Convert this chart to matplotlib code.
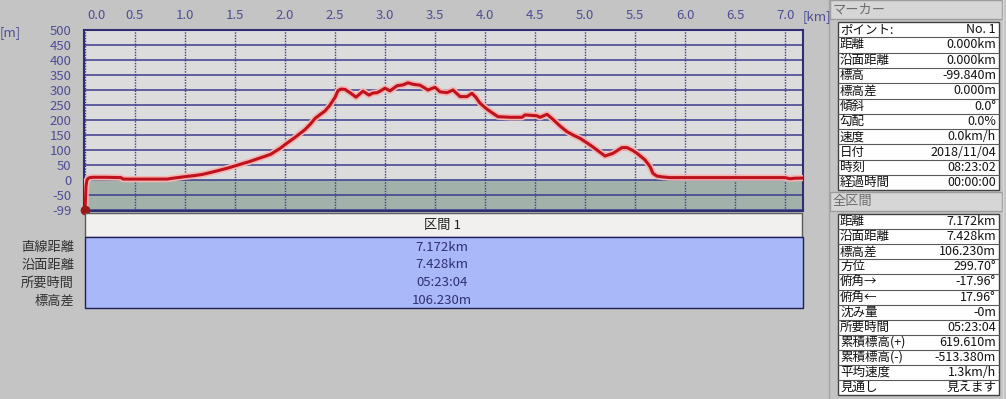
import matplotlib.pyplot as plt
from matplotlib.patches import Rectangle
from matplotlib.transforms import ScaledTranslation

plt.rcParams['font.family'] = ['Noto Sans CJK JP', 'DejaVu Sans']

# elevation profile
dist_km = [0.00, 0.005, 0.01, 0.02, 0.03, 0.05, 0.08, 0.20, 0.36, 0.38, 0.50, 0.70, 0.82, 0.88, 0.95,
           1.02, 1.10, 1.18, 1.28, 1.35, 1.42, 1.50, 1.58, 1.65, 1.72, 1.80, 1.86, 1.90, 1.95, 2.00,
           2.05, 2.10, 2.15, 2.20, 2.25, 2.30, 2.35, 2.40, 2.45, 2.50, 2.53, 2.56, 2.60, 2.65, 2.71,
           2.78, 2.84, 2.88, 2.92, 2.96, 3.00, 3.05, 3.12, 3.18, 3.23, 3.28, 3.35, 3.43, 3.50, 3.55,
           3.62, 3.68, 3.75, 3.82, 3.87, 3.91, 3.95, 4.02, 4.08, 4.13, 4.20, 4.25, 4.37, 4.40, 4.52,
           4.55, 4.62, 4.68, 4.75, 4.82, 4.88, 4.95, 5.05, 5.12, 5.20, 5.28, 5.37, 5.42, 5.48, 5.52,
           5.60, 5.65, 5.68, 5.72, 5.78, 5.85, 6.50, 7.00, 7.05, 7.10, 7.172]
elev_m = [-99.84, -60, -20, 0, 5, 8, 9, 9, 8, 3, 3, 3, 3, 6, 9,
          12, 15, 19, 27, 33, 39, 47, 55, 62, 70, 79, 86, 95, 105, 118,
          130, 142, 155, 168, 185, 205, 218, 230, 250, 275, 298, 303, 302, 291, 276,
          296, 283, 290, 291, 298, 306, 297, 314, 317, 324, 319, 316, 300, 309, 294,
          291, 300, 278, 278, 289, 275, 256, 236, 222, 211, 210, 209, 209, 217, 214,
          209, 219, 202, 180, 161, 150, 139, 117, 100, 80, 89, 108, 108, 98, 89,
          67, 45, 22, 13, 10, 8, 8, 8, 4, 6, 6.39]

x_ticks = [0.0, 0.5, 1.0, 1.5, 2.0, 2.5, 3.0, 3.5, 4.0, 4.5, 5.0, 5.5, 6.0, 6.5, 7.0]
y_ticks = [-99.84, -50, 0, 50, 100, 150, 200, 250, 300, 350, 400, 450, 500]
y_labels = ['-99', '-50', '0', '50', '100', '150', '200', '250', '300', '350', '400', '450', '500']

section_name = '区間 1'
section_keys = ['直線距離', '沿面距離', '所要時間', '標高差']
section_vals = ['7.172km', '7.428km', '05:23:04', '106.230m']

marker_keys = ['ポイント:', '距離', '沿面距離', '標高', '標高差', '傾斜', '勾配', '速度', '日付', '時刻', '経過時間']
marker_vals = ['No. 1', '0.000km', '0.000km', '-99.840m', '0.000m', '0.0°', '0.0%', '0.0km/h',
               '2018/11/04', '08:23:02', '00:00:00']
total_keys = ['距離', '沿面距離', '標高差', '方位', '俯角→', '俯角←', '沈み量', '所要時間',
              '累積標高(+)', '累積標高(-)', '平均速度', '見通し']
total_vals = ['7.172km', '7.428km', '106.230m', '299.70°', '-17.96°', '17.96°', '-0m', '05:23:04',
              '619.610m', '-513.380m', '1.3km/h', '見えます']

BG = '#c4c4c4'
AXTXT = '#4e4e96'
GRID = '#3c3c90'
W, H = 1006, 399

fig = plt.figure(figsize=(W / 100, H / 100), dpi=100, facecolor=BG)


def box(x0, y0, x1, y1):
    # pixel box (top-left origin) -> figure fraction
    return [x0 / W, 1 - y1 / H, (x1 - x0) / W, (y1 - y0) / H]


# ---- profile plot
ax = fig.add_axes(box(84, 30, 803, 211.2))
ax.set_facecolor('#dcdcdc')
ax.set_xlim(-0.01, 7.18)
ax.set_ylim(-104, 500)
ax.axhspan(-104, 0, color='#a2b2aa', zorder=0)
for v in y_ticks:
    ax.axhline(v, color=GRID, lw=1.1, zorder=1)
for v in x_ticks:
    ax.axvline(v, color=GRID, lw=1, ls=(0, (1, 1)), zorder=1)

ax.plot(dist_km, elev_m, color='#f4b4b0', lw=4.6, solid_joinstyle='round', zorder=3)
ax.plot(dist_km, elev_m, color='#c0121e', lw=2.2, solid_joinstyle='round', zorder=4)
ax.plot(dist_km[0], elev_m[0], marker='o', ms=6, color='#9a1a1a', clip_on=False, zorder=5)

for s in ax.spines.values():
    s.set_color('#2e2e72')
    s.set_linewidth(1.5)

ax.xaxis.tick_top()
ax.set_xticks(x_ticks, ['%.1f' % v for v in x_ticks])
ax.set_yticks(y_ticks, y_labels)
ax.tick_params(length=0, labelsize=9.5, labelcolor=AXTXT)
ax.tick_params(axis='x', pad=6)
ax.tick_params(axis='y', pad=9)
lab0 = ax.get_xticklabels()[0]
lab0.set_transform(lab0.get_transform() + ScaledTranslation(0.12, 0, fig.dpi_scale_trans))

fig.text(10 / W, 1 - 33 / H, '[m]', color=AXTXT, fontsize=9.5, ha='center', va='center')
fig.text(817 / W, 1 - 17 / H, '[km]', color=AXTXT, fontsize=9.5, ha='center', va='center')

# ---- section table under the plot
tax = fig.add_axes(box(0, 211, 826, 312))
tax.set_xlim(0, 826)
tax.set_ylim(312, 211)
tax.axis('off')
tax.add_patch(Rectangle((85, 212.5), 717, 24, fc='#f1f0ee', ec='#5a5a5a', lw=1))
tax.add_patch(Rectangle((85, 237), 718, 71, fc='#a8b8f8', ec='#1e1e5a', lw=1))
tax.text(442, 225, section_name, ha='center', va='center', fontsize=9.5, color='#202020')
for i, (k, v) in enumerate(zip(section_keys, section_vals)):
    yy = 247 + i * 18
    tax.text(74, yy, k, ha='right', va='center', fontsize=9.5, color='#303030')
    tax.text(442, yy, v, ha='center', va='center', fontsize=9.5, color='#303070')

# ---- right info panel
pax = fig.add_axes(box(826, 0, 1006, 399))
pax.set_xlim(826, 1006)
pax.set_ylim(399, 0)
pax.axis('off')
pax.axvline(829, color='#a4a4a4', lw=1)
pax.axvline(1003, color='#d8d8d8', lw=1)


def panel(title, y0, keys, vals, rh):
    pax.add_patch(Rectangle((830, y0), 172, 19, fc='#d6d6d6', ec='#9c9c9c', lw=1))
    pax.text(833, y0 + 10, title, ha='left', va='center', fontsize=9.5, color='#6c6c6c')
    top = y0 + 22
    pax.add_patch(Rectangle((838, top), 161, rh * len(keys), fc='white', ec='#404040', lw=1))
    for i, (k, v) in enumerate(zip(keys, vals)):
        yc = top + rh * (i + 0.5)
        if i > 0:
            pax.plot([838, 999], [top + rh * i] * 2, color='#5a5a5a', lw=0.8)
        pax.text(840, yc, k, ha='left', va='center', fontsize=9, color='#111111')
        pax.text(996, yc, v, ha='right', va='center', fontsize=9, color='#111111')


panel('マーカー', 0, marker_keys, marker_vals, 15.3)
panel('全区間', 192, total_keys, total_vals, 15.1)

fig.savefig('out.png', dpi=100, facecolor=BG)
